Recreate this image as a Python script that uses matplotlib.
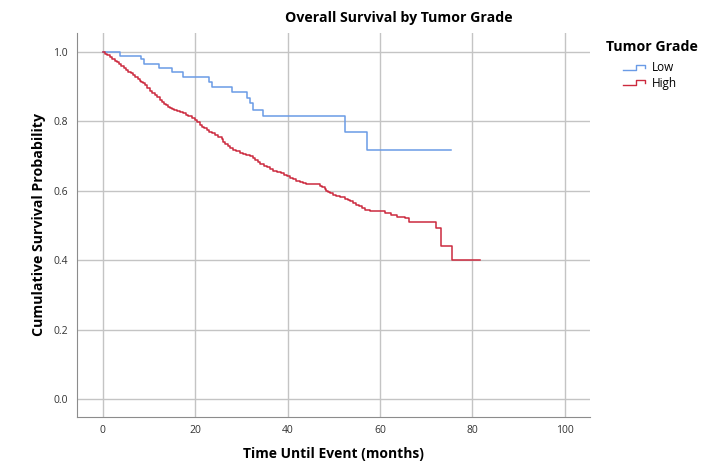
# survival.py
# overall survival curves by tumor grade

import matplotlib
matplotlib.use("Agg")
import matplotlib.pyplot as plt
from matplotlib.legend_handler import HandlerBase
from matplotlib.lines import Line2D

plt.rcParams['font.family'] = ['Open Sans', 'DejaVu Sans']

# Low grade: event times (months) and survival after each step
low_t = [0, 3.7, 8.2, 8.9, 12.1, 14.9, 17.4, 23.0, 23.7, 28.0, 31.1, 31.8,
         32.4, 34.6, 52.5, 57.2, 75.3]
low_s = [1.0, 0.989, 0.980, 0.965, 0.953, 0.941, 0.927, 0.914, 0.898, 0.885,
         0.867, 0.852, 0.833, 0.814, 0.770, 0.718, 0.718]

# High grade (lots of small steps)
high_t = [0, 0.5, 1.0, 1.5, 2.0, 2.6, 3.0, 3.5, 4.0, 4.5, 5.0, 5.5, 6.0, 6.5,
          7.0, 7.5, 8.0, 8.3, 8.7, 9.1, 9.6, 10.2, 10.7, 11.3, 11.8, 12.3,
          12.8, 13.2, 13.6, 14.1, 14.6, 15.0, 15.5, 16.0, 16.7, 17.4, 18.0,
          18.5, 19.2, 19.9, 20.4, 21.0, 21.5, 22.0, 22.5, 23.0, 23.6, 24.2,
          25.0, 25.7, 26.1, 26.5, 27.0, 27.5, 28.2, 28.9, 29.6, 30.3, 31.0,
          31.8, 32.4, 33.0, 33.5, 34.0, 34.8, 35.5, 36.2, 36.9, 37.7, 38.5,
          39.2, 39.9, 40.5, 41.2, 41.9, 42.6, 43.3, 44.0, 45.0, 46.3, 47.0,
          47.5, 48.0, 48.3, 48.7, 49.1, 49.8, 50.5, 51.4, 52.4, 53.0, 53.5,
          54.2, 54.8, 55.4, 56.0, 56.8, 57.8, 61.0, 62.4, 63.6, 65.4, 66.3,
          72.1, 73.1, 75.5, 81.6]
high_s = [1.0, 0.995, 0.990, 0.985, 0.980, 0.975, 0.970, 0.965, 0.960, 0.955,
          0.949, 0.943, 0.938, 0.933, 0.927, 0.922, 0.917, 0.913, 0.909, 0.905,
          0.897, 0.888, 0.882, 0.876, 0.869, 0.862, 0.856, 0.850, 0.846, 0.842,
          0.839, 0.836, 0.832, 0.829, 0.826, 0.823, 0.819, 0.815, 0.810, 0.804,
          0.797, 0.790, 0.785, 0.780, 0.775, 0.770, 0.766, 0.761, 0.755, 0.748,
          0.741, 0.735, 0.728, 0.722, 0.717, 0.713, 0.710, 0.707, 0.704, 0.700,
          0.694, 0.688, 0.682, 0.676, 0.671, 0.667, 0.662, 0.658, 0.654, 0.650,
          0.645, 0.641, 0.637, 0.633, 0.629, 0.626, 0.623, 0.620, 0.619, 0.618,
          0.614, 0.610, 0.605, 0.600, 0.597, 0.593, 0.589, 0.585, 0.581, 0.576,
          0.572, 0.569, 0.565, 0.560, 0.555, 0.549, 0.545, 0.542, 0.535, 0.530,
          0.525, 0.521, 0.509, 0.492, 0.442, 0.399, 0.399]

groups = ['Low', 'High']
colors = ['#6a9be6', '#cc2a3e']
x_ticks = [0, 20, 40, 60, 80, 100]
y_ticks = [0.0, 0.2, 0.4, 0.6, 0.8, 1.0]


# little step icon for the legend like the original
class StepHandler(HandlerBase):
    def create_artists(self, legend, orig, xd, yd, w, h, fontsize, trans):
        xs = [xd, xd + w * 0.6, xd + w * 0.6, xd + w, xd + w]
        ys = [yd + h * 0.15, yd + h * 0.15, yd + h * 0.8, yd + h * 0.8, yd + h * 0.4]
        ln = Line2D(xs, ys, color=orig.get_color(), lw=1.0, transform=trans)
        return [ln]


fig = plt.figure(figsize=(7.03, 4.69), dpi=100)
ax = fig.add_axes([0.1095, 0.111, 0.7295, 0.819])

lines = []
for t, s, c in [(low_t, low_s, colors[0]), (high_t, high_s, colors[1])]:
    ln, = ax.plot(t, s, drawstyle='steps-post', color=c, lw=1.1, zorder=3)
    lines.append(ln)

ax.set_xlim(-5.6, 105.4)
ax.set_ylim(-0.052, 1.055)
ax.set_xticks(x_ticks)
ax.set_yticks(y_ticks)
ax.set_xticklabels([str(v) for v in x_ticks])
ax.set_yticklabels(['%.1f' % v for v in y_ticks])
ax.grid(True, color='#c4c4c4', lw=1.0)
ax.set_axisbelow(True)
for sp in ['top', 'right']:
    ax.spines[sp].set_visible(False)
for sp in ['left', 'bottom']:
    ax.spines[sp].set_color('#8c8c8c')
ax.tick_params(axis='y', length=0, labelsize=7.5, labelcolor='#333333', pad=6.5)
ax.tick_params(axis='x', length=0, labelsize=7.5, labelcolor='#333333', pad=6)

ax.set_xlabel('Time Until Event (months)', fontsize=10, fontweight='bold', labelpad=8)
ax.set_ylabel('Cumulative Survival Probability', fontsize=10.2, fontweight='bold', labelpad=5)
fig.text(0.568, 0.962, 'Overall Survival by Tumor Grade', fontsize=10.2,
         fontweight='bold', ha='center', va='center')

# legend title as separate text so the gap matches
fig.text(0.927, 0.900, 'Tumor Grade', fontsize=10.2, fontweight='bold',
         ha='center', va='center')
leg = fig.legend(lines, groups, loc='center left', bbox_to_anchor=(0.886, 0.839),
                 frameon=False, fontsize=8.5,
                 handler_map={Line2D: StepHandler()}, handlelength=1.85,
                 handletextpad=0.6, labelspacing=0.2, borderpad=0,
                 borderaxespad=0)

fig.savefig('out.png', dpi=100)
